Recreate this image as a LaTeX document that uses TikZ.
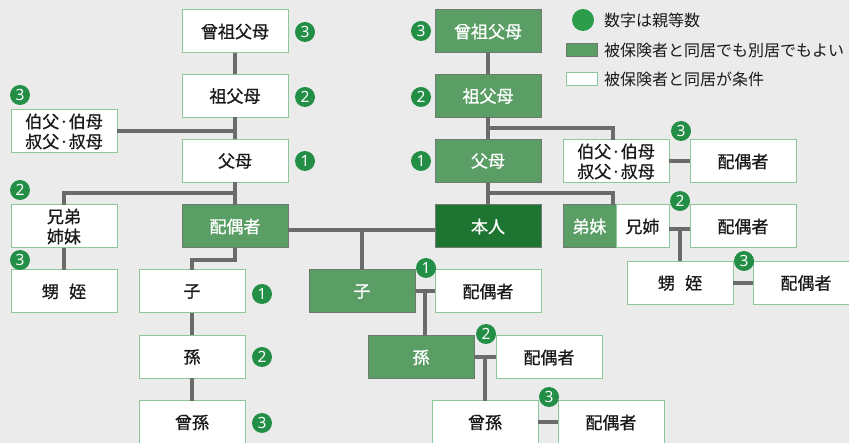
\documentclass[tikz,border=0pt]{standalone}
\usepackage{fontspec}
\setmainfont{Noto Sans CJK JP}
\newfontfamily\boxfont{Noto Sans CJK JP}[FakeBold=0.8]
\newfontfamily\numfont{Noto Sans}
\usetikzlibrary{calc}
\definecolor{bgc}{HTML}{EBEBEB}
\definecolor{gfill}{HTML}{5A9E66}
\definecolor{dfill}{HTML}{1E7532}
\definecolor{gborder}{HTML}{6F7A70}
\definecolor{wborder}{HTML}{8FC898}
\definecolor{linec}{HTML}{6B6B6B}
\definecolor{badgec}{HTML}{238E45}
\definecolor{legc}{HTML}{2A9C4A}
\definecolor{txt}{HTML}{1A1A1A}
\begin{document}
\begin{tikzpicture}[x=1pt,y=-1pt,
  every node/.style={inner sep=0pt, outer sep=0pt},
  box/.style={rectangle, minimum width=106pt, minimum height=43pt, font=\boxfont\fontsize{17}{20}\selectfont, align=center},
  wbox/.style={box, fill=white, draw=wborder, line width=1pt, text=txt},
  gbox/.style={box, fill=gfill, draw=gborder, line width=1pt, text=white},
  dbox/.style={box, fill=dfill, draw=gborder, line width=1pt, text=white},
  badge/.style={circle, fill=badgec, minimum size=20pt, text=white, font=\numfont\bfseries\fontsize{15.5}{15.5}\selectfont},
  conn/.style={draw=linec, line width=4pt},
  legtext/.style={anchor=west, text=txt, font=\fontsize{16}{18}\selectfont},
]
\path[use as bounding box, fill=bgc] (0,0) rectangle (849,443);
\clip (0,0) rectangle (849,443);

% left side
\node[wbox] (lgg) at (235,31.5) {曾祖父母};
\node[wbox] (lgp) at (235,96) {祖父母};
\node[wbox] (lpa) at (235,161) {父母};
\node[wbox] (luncle) at (64,131.5) {伯父·伯母\\叔父·叔母};
\node[wbox] (lsib) at (64,226.5) {兄弟\\姉妹};
\node[wbox] (lneph) at (64,291.5) {甥\hspace{0.6em}姪};
\node[gbox] (lsp) at (235,226.5) {配偶者};
\node[wbox] (lchild) at (192,291.5) {子};
\node[wbox] (lgrand) at (192,357) {孫};
\node[wbox] (lgreat) at (192,422.5) {曾孫};

% right side
\node[gbox] (rgg) at (488,31.5) {曾祖父母};
\node[gbox] (rgp) at (488,96) {祖父母};
\node[gbox] (rpa) at (488,161) {父母};
\node[wbox] (runcle) at (616,161.5) {伯父·伯母\\叔父·叔母};
\node[wbox] (runsp) at (743,161.5) {配偶者};
\node[dbox] (self) at (488,226.5) {本人};
\node[gbox, minimum width=53pt] (rsibg) at (589.5,226.5) {弟妹};
\node[wbox, minimum width=53pt] (rsibw) at (642.5,226.5) {兄姉};
\node[wbox] (rsibsp) at (743,226.5) {配偶者};
\node[wbox] (rneph) at (680,283) {甥\hspace{0.6em}姪};
\node[wbox] (rnephsp) at (806,283) {配偶者};
\node[gbox] (rchild) at (362,291.5) {子};
\node[wbox] (rchsp) at (488,291.5) {配偶者};
\node[gbox] (rgrand) at (421,357.5) {孫};
\node[wbox] (rgsp) at (549,357.5) {配偶者};
\node[wbox] (rgreat) at (485,422.5) {曾孫};
\node[wbox] (rgtsp) at (611,422.5) {配偶者};

% connectors left
\draw[conn] (lgg.south) -- (lgp.north);
\draw[conn] (luncle.east) -| (lgp.south);
\draw[conn] (lgp.south) -- (lpa.north);
\draw[conn] (lpa.south) -- (lsp.north);
\coordinate (jl) at ($(lpa.south)+(0,11)$);
\draw[conn] (jl) -| (lsib.north);
\draw[conn] (lsib.south) -- (lneph.north);
\draw[conn] ($(lsp.east)+(0,3.5)$) -- ($(self.west)+(0,3.5)$);
\draw[conn] (rchild.north) -- ($(rchild.north |- self.west)+(0,3.5)$);
\coordinate (jc) at ($(lsp.south)+(0,12)$);
\draw[conn] (lsp.south) -- (jc) -| (lchild.north);
\draw[conn] (lchild.south) -- (lgrand.north);
\draw[conn] (lgrand.south) -- (lgreat.north);

% connectors right
\draw[conn] (rgg.south) -- (rgp.north);
\draw[conn] (rgp.south) -- (rpa.north);
\coordinate (jr1) at ($(rgp.south)+(0,11)$);
\draw[conn] (jr1) -| ($(runcle.north)+(-3,0)$);
\draw[conn] (runcle.east) -- (runsp.west);
\draw[conn] (rpa.south) -- (self.north);
\coordinate (jr2) at ($(rpa.south)+(0,11)$);
\draw[conn] (jr2) -| ($(rsibg.north east)+(-3,0)$);
\draw[conn] ($(rsibw.east)+(0,3)$) -- ($(rsibsp.west)+(0,3)$);
\coordinate (js) at ($(rsibw.east)!0.5!(rsibsp.west)+(0,3)$);
\draw[conn] (js) -- (js |- rneph.north);
\draw[conn] (rneph.east) -- (rnephsp.west);
\draw[conn] (rchild.east) -- (rchsp.west);
\coordinate (jk) at ($(rchild.east)!0.5!(rchsp.west)$);
\draw[conn] (jk) -- (jk |- rgrand.north);
\draw[conn] (rgrand.east) -- (rgsp.west);
\coordinate (jg) at ($(rgrand.east)!0.5!(rgsp.west)$);
\draw[conn] (jg) -- (jg |- rgreat.north);
\draw[conn] (rgreat.east) -- (rgtsp.west);

% badges
\node[badge] (b1) at (305,32) {3};
\node[badge] (b2) at (305,97) {2};
\node[badge] (b3) at (305,161) {1};
\node[badge] (b4) at (20,95) {3};
\node[badge] (b5) at (20,190) {2};
\node[badge] (b6) at (20,260) {3};
\node[badge] (b7) at (262,294) {1};
\node[badge] (b8) at (262,357) {2};
\node[badge] (b9) at (262,423) {3};
\node[badge] (b10) at (421,31) {3};
\node[badge] (b11) at (421,97) {2};
\node[badge] (b12) at (421,161) {1};
\node[badge] (b13) at (681,131) {3};
\node[badge] (b14) at (680,201) {2};
\node[badge] (b15) at (744,261) {3};
\node[badge] (b16) at (426,268) {1};
\node[badge] (b17) at (486,334) {2};
\node[badge] (b18) at (549,397) {3};

% legend
\node[circle, fill=legc, minimum size=22pt] (lg1) at (583,20) {};
\node[legtext] (lt1) at (604,20) {数字は親等数};
\node[rectangle, fill=gfill, draw=gborder, line width=0.8pt, minimum width=31pt, minimum height=13pt] (lg2) at (581.5,50) {};
\node[legtext] (lt2) at (604,50) {被保険者と同居でも別居でもよい};
\node[rectangle, fill=white, draw=wborder, line width=0.8pt, minimum width=31pt, minimum height=13pt] (lg3) at (581.5,79) {};
\node[legtext] (lt3) at (604,79) {被保険者と同居が条件};
\end{tikzpicture}
\end{document}
